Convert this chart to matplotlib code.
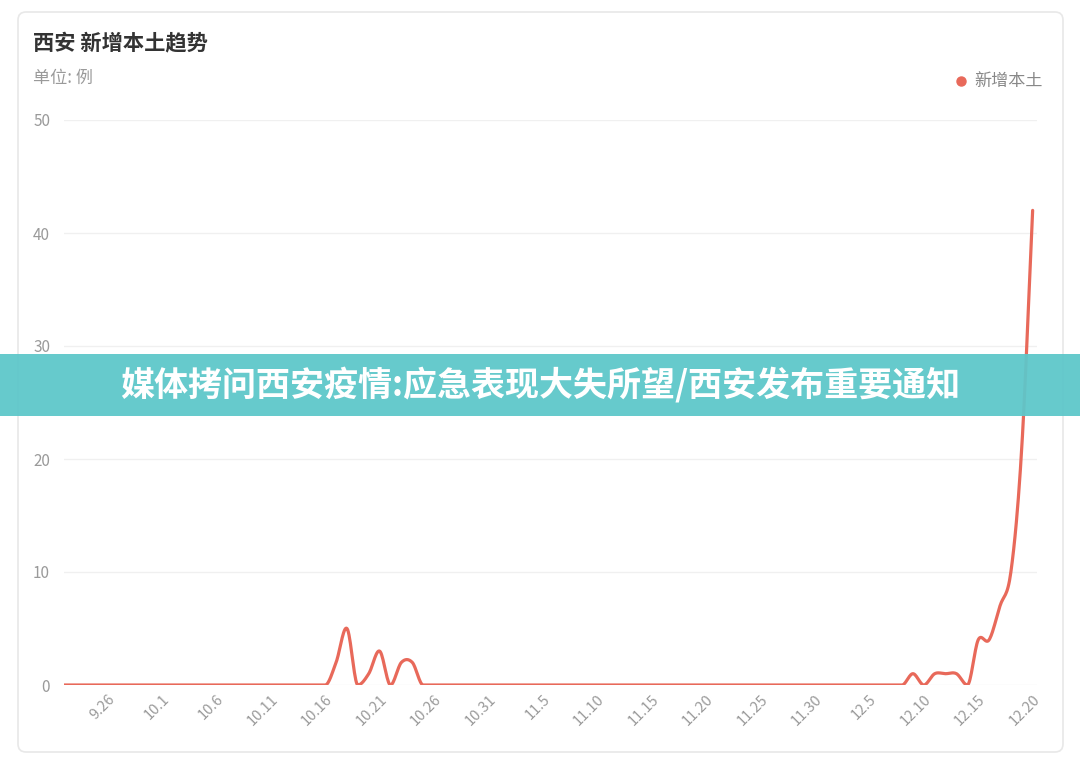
import numpy as np
import pandas as pd
import matplotlib
matplotlib.use('Agg')
import matplotlib.pyplot as plt
from matplotlib.patches import Rectangle, FancyBboxPatch
from matplotlib.transforms import IdentityTransform

plt.rcParams['font.family'] = ['Noto Sans CJK SC', 'DejaVu Sans']

# --- data: daily new local cases, 9.22 -> 12.20 ---
dates = pd.date_range('2021-09-22', '2021-12-20', freq='D')
day_labels = [f'{d.month}.{d.day}' for d in dates]
cases = [
    0, 0, 0, 0, 0, 0, 0, 0, 0, 0,
    0, 0, 0, 0, 0, 0, 0, 0, 0, 0,
    0, 0, 0, 0, 0, 2, 5, 0, 1, 3,
    0, 2, 2, 0, 0, 0, 0, 0, 0, 0,
    0, 0, 0, 0, 0, 0, 0, 0, 0, 0,
    0, 0, 0, 0, 0, 0, 0, 0, 0, 0,
    0, 0, 0, 0, 0, 0, 0, 0, 0, 0,
    0, 0, 0, 0, 0, 0, 0, 0, 1, 0,
    1, 1, 1, 0, 4, 4, 7, 10, 21, 42,
]
tick_every = 5
tick_start = 4  # 9.26

title = '西安 新增本土趋势'
unit = '单位: 例'
series_name = '新增本土'
banner = '媒体拷问西安疫情:应急表现大失所望/西安发布重要通知'

line_color = '#e8695a'
banner_color = '#5ec7ca'


def smooth(y, n=16):
    # cubic hermite curve through the daily points, flat at zero days
    y = np.asarray(y, dtype=float)
    m = np.zeros_like(y)
    m[1:-1] = (y[2:] - y[:-2]) / 2
    m[-1] = y[-1] - y[-2]
    m[y == 0] = 0
    xs, ys = [], []
    t = np.linspace(0, 1, n, endpoint=False)
    h00 = 2 * t**3 - 3 * t**2 + 1
    h10 = t**3 - 2 * t**2 + t
    h01 = -2 * t**3 + 3 * t**2
    h11 = t**3 - t**2
    for i in range(len(y) - 1):
        xs.append(i + t)
        ys.append(h00 * y[i] + h10 * m[i] + h01 * y[i + 1] + h11 * m[i + 1])
    xs.append([len(y) - 1])
    ys.append([y[-1]])
    return np.concatenate(xs), np.maximum(np.concatenate(ys), 0)


W, H = 1080, 770
fig = plt.figure(figsize=(W / 100, H / 100), dpi=100)
fig.patch.set_facecolor('white')

# card
card = FancyBboxPatch((18, H - 752), 1045, 740, boxstyle='round,pad=0,rounding_size=8',
                      transform=IdentityTransform(), facecolor='white',
                      edgecolor='#e8e8e8', linewidth=1.2, zorder=0)
fig.add_artist(card)

ax = fig.add_axes([64 / W, (H - 685) / H, (1037 - 64) / W, (685 - 120) / H])
ax.set_facecolor('none')
x = np.arange(len(cases))
sx, sy = smooth(cases)
ax.plot(sx, sy, color=line_color, linewidth=2.3, solid_capstyle='round',
        solid_joinstyle='round', zorder=3)

ax.set_xlim(0, len(cases) - 1 + 0.4)
ax.set_ylim(0, 50)
ax.set_yticks([0, 10, 20, 30, 40, 50])
ax.yaxis.grid(True, color='#f0f0f0', linewidth=1)
ax.set_axisbelow(True)
for s in ax.spines.values():
    s.set_visible(False)

tick_idx = x[tick_start::tick_every]
ax.set_xticks(tick_idx)
ax.set_xticklabels([day_labels[i] for i in tick_idx], rotation=45, ha='right',
                   va='top', rotation_mode='anchor')
ax.tick_params(axis='x', length=0, pad=5, labelsize=10.5, labelcolor='#9a9a9a')
ax.tick_params(axis='y', length=0, pad=10, labelsize=11, labelcolor='#9a9a9a')

fig.text(33 / W, 1 - 44 / H, title, fontsize=15.3, fontweight='bold', color='#333333',
         ha='left', va='center')
fig.text(33 / W, 1 - 78 / H, unit, fontsize=12.3, color='#9a9a9a', ha='left', va='center')

# legend
fig.add_artist(plt.Line2D([961 / W], [1 - 81 / H], marker='o', markersize=6.5,
                          color=line_color, linestyle='none'))
fig.text(974 / W, 1 - 81 / H, series_name, fontsize=12.3, color='#888888',
         ha='left', va='center')

# banner overlay
band = Rectangle((0, 1 - 416 / H), 1, 62 / H, transform=fig.transFigure,
                 facecolor=banner_color, edgecolor='none', alpha=0.95, zorder=5)
fig.add_artist(band)
fig.text(0.5, 1 - 385 / H, banner, fontsize=24.5, fontweight='heavy', color='white',
         ha='center', va='center', zorder=6)

fig.savefig('out.png', dpi=100, facecolor='white')
